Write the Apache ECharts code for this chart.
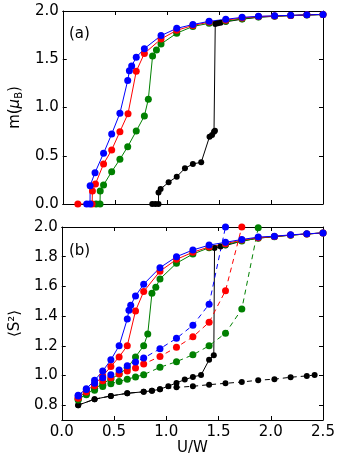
<!DOCTYPE html>
<html>
<head>
<meta charset="utf-8">
<script src="https://cdn.jsdelivr.net/npm/echarts@6/dist/echarts.min.js"></script>
<style>
  html, body { margin: 0; padding: 0; background: #fff; }
  #chart { width: 341px; height: 460px; }
</style>
</head>
<body>
<div id="chart"></div>
<script>
// panel (a): magnetic moment m vs U/W, [U/W, m]
const magBlack = [[0.86, 0], [0.89, 0], [0.92, 0], [0.92, 0.12], [0.94, 0.155], [1.017, 0.225], [1.095, 0.283],
  [1.174, 0.37], [1.25, 0.415], [1.33, 0.432], [1.41, 0.698], [1.434, 0.715], [1.453, 0.75], [1.462, 0.76],
  [1.465, 1.865], [1.49, 1.872], [1.516, 1.879], [1.566, 1.888], [1.723, 1.915], [1.88, 1.935],
  [2.035, 1.945], [2.19, 1.952], [2.345, 1.958], [2.5, 1.963]]
const magGreen = [[0.32, 0], [0.358, 0], [0.36, 0.135], [0.392, 0.197], [0.47, 0.335], [0.549, 0.463],
  [0.624, 0.594], [0.706, 0.756], [0.784, 0.912], [0.822, 1.085], [0.863, 1.534], [0.9, 1.596],
  [0.944, 1.658], [1.095, 1.77], [1.25, 1.84], [1.406, 1.872], [1.566, 1.895], [1.723, 1.918],
  [1.88, 1.938], [2.035, 1.946], [2.19, 1.953], [2.345, 1.959], [2.5, 1.964]]
const magRed = [[0.145, 0], [0.282, 0], [0.285, 0.135], [0.314, 0.207], [0.392, 0.415], [0.47, 0.56],
  [0.549, 0.75], [0.627, 0.936], [0.706, 1.375], [0.784, 1.56], [0.944, 1.71], [1.095, 1.80],
  [1.25, 1.85], [1.406, 1.885], [1.566, 1.905], [1.723, 1.928], [1.88, 1.942], [2.035, 1.948],
  [2.19, 1.954], [2.345, 1.96], [2.5, 1.965]]
const magBlue = [[0.23, 0], [0.262, 0], [0.263, 0.19], [0.31, 0.325], [0.392, 0.525], [0.47, 0.725],
  [0.549, 0.94], [0.624, 1.28], [0.64, 1.38], [0.662, 1.43], [0.706, 1.52], [0.784, 1.61],
  [0.944, 1.745], [1.095, 1.82], [1.25, 1.86], [1.406, 1.893], [1.566, 1.914], [1.723, 1.934],
  [1.88, 1.945], [2.035, 1.95], [2.19, 1.955], [2.345, 1.96], [2.5, 1.965]]

// panel (b): local moment <S^2> vs U/W, solid and dashed branches
const s2Black = [[0.157, 0.80], [0.314, 0.84], [0.47, 0.862], [0.627, 0.88], [0.784, 0.89], [0.863, 0.897],
  [0.94, 0.907], [1.02, 0.928], [1.098, 0.95], [1.177, 0.972], [1.255, 0.99], [1.333, 1.003],
  [1.41, 1.105], [1.455, 1.136], [1.462, 1.858], [1.52, 1.868], [1.567, 1.875], [1.723, 1.905],
  [1.88, 1.925], [2.035, 1.935], [2.19, 1.945], [2.345, 1.953], [2.5, 1.96]]
const s2BlackDash = [[0.157, 0.80], [0.314, 0.84], [0.47, 0.862], [0.627, 0.88], [0.784, 0.89],
  [0.863, 0.897], [0.94, 0.907], [1.098, 0.92], [1.255, 0.927], [1.41, 0.938], [1.567, 0.947],
  [1.723, 0.956], [1.88, 0.968], [2.035, 0.975], [2.19, 0.988], [2.345, 0.997], [2.42, 1.003]]
const s2Green = [[0.157, 0.84], [0.235, 0.875], [0.314, 0.91], [0.392, 0.945], [0.47, 0.975], [0.549, 1.01],
  [0.627, 1.05], [0.706, 1.125], [0.784, 1.2], [0.823, 1.28], [0.863, 1.553], [0.9, 1.595],
  [0.94, 1.65], [1.098, 1.756], [1.255, 1.818], [1.41, 1.86], [1.567, 1.882], [1.723, 1.905],
  [1.88, 1.925], [2.035, 1.935], [2.19, 1.945], [2.345, 1.953], [2.5, 1.96]]
const s2GreenDash = [[0.157, 0.835], [0.235, 0.87], [0.314, 0.9], [0.392, 0.925], [0.47, 0.945],
  [0.549, 0.96], [0.627, 0.975], [0.706, 0.99], [0.784, 1.005], [0.94, 1.055], [1.098, 1.093],
  [1.255, 1.139], [1.41, 1.2], [1.567, 1.285], [1.723, 1.447], [1.88, 1.995]]
const s2Red = [[0.157, 0.85], [0.235, 0.893], [0.314, 0.94], [0.392, 0.997], [0.47, 1.06], [0.549, 1.125],
  [0.627, 1.2], [0.706, 1.435], [0.784, 1.565], [0.94, 1.702], [1.098, 1.782], [1.255, 1.83],
  [1.41, 1.866], [1.567, 1.888], [1.723, 1.912], [1.88, 1.928], [2.035, 1.936], [2.19, 1.946],
  [2.345, 1.953], [2.5, 1.96]]
const s2RedDash = [[0.157, 0.846], [0.235, 0.888], [0.314, 0.93], [0.392, 0.965], [0.47, 0.985],
  [0.549, 1.01], [0.627, 1.03], [0.706, 1.05], [0.784, 1.077], [0.94, 1.128], [1.098, 1.19],
  [1.255, 1.26], [1.41, 1.358], [1.567, 1.571], [1.723, 2.0]]
const s2Blue = [[0.157, 0.866], [0.235, 0.91], [0.314, 0.967], [0.392, 1.03], [0.47, 1.105], [0.549, 1.2],
  [0.627, 1.38], [0.643, 1.44], [0.66, 1.473], [0.706, 1.535], [0.784, 1.615], [0.94, 1.726],
  [1.098, 1.8], [1.255, 1.845], [1.41, 1.878], [1.567, 1.897], [1.723, 1.916], [1.88, 1.932],
  [2.035, 1.938], [2.19, 1.947], [2.345, 1.954], [2.5, 1.96]]
const s2BlueDash = [[0.157, 0.862], [0.235, 0.905], [0.314, 0.947], [0.392, 0.985], [0.47, 1.005],
  [0.549, 1.037], [0.627, 1.066], [0.706, 1.09], [0.784, 1.117], [0.94, 1.18], [1.098, 1.25],
  [1.255, 1.338], [1.41, 1.48], [1.567, 2.0]]

// tick values
const mTicks = [0, 0.5, 1.0, 1.5, 2.0]
const s2Ticks = [0.8, 1.0, 1.2, 1.4, 1.6, 1.8, 2.0]

const FONT = 'DejaVu Sans'
const chart = echarts.init(document.getElementById('chart'))

function mkLine(data, color, xi, yi, dashed, size) {
  return {
    type: 'line',
    xAxisIndex: xi,
    yAxisIndex: yi,
    data: data,
    symbol: 'circle',
    symbolSize: size,
    showSymbol: true,
    animation: false,
    itemStyle: { color: color },
    lineStyle: { color: color, width: 1, type: dashed ? [5, 4] : 'solid' },
    emphasis: { disabled: true }
  }
}

function xAx(grid, pos, labels) {
  return {
    type: 'value', gridIndex: grid, position: pos, min: 0, max: 2.5, interval: 0.5,
    axisLine: { show: true, onZero: false, lineStyle: { color: '#000', width: 1 } },
    axisTick: { show: true, inside: true, length: 4, lineStyle: { color: '#000' } },
    axisLabel: { show: labels, margin: 5, fontFamily: FONT, fontSize: 15, color: '#000',
      formatter: v => v.toFixed(1) },
    splitLine: { show: false }
  }
}

function yAx(grid, pos, min, ticks, labels) {
  return {
    type: 'value', gridIndex: grid, position: pos, min: min, max: 2.0,
    axisLine: { show: true, onZero: false, lineStyle: { color: '#000', width: 1 } },
    axisTick: { show: true, inside: true, length: 4, customValues: ticks, lineStyle: { color: '#000' } },
    axisLabel: { show: labels, margin: 4, fontFamily: FONT, fontSize: 15, color: '#000',
      customValues: ticks, formatter: v => v.toFixed(1) },
    splitLine: { show: false }
  }
}

const xAxes = [xAx(0, 'bottom', false), xAx(0, 'top', false), xAx(1, 'bottom', true), xAx(1, 'top', false)]
xAxes[2].name = 'U/W'
xAxes[2].nameLocation = 'middle'
xAxes[2].nameGap = 17
xAxes[2].nameTextStyle = { fontFamily: FONT, fontSize: 15, color: '#000' }

const yAxes = [yAx(0, 'left', 0, mTicks, true), yAx(0, 'right', 0, mTicks, false),
  yAx(1, 'left', 0.7, s2Ticks, true), yAx(1, 'right', 0.7, s2Ticks, false)]
yAxes[0].name = 'm({mu|μ}{sub|B})'
yAxes[0].nameLocation = 'middle'
yAxes[0].nameGap = 33
yAxes[0].nameTextStyle = {
  fontFamily: FONT, fontSize: 15, color: '#000',
  rich: {
    mu: { fontFamily: FONT, fontSize: 15, fontStyle: 'italic', color: '#000' },
    sub: { fontFamily: FONT, fontSize: 10, color: '#000', padding: [7, 0, 0, 0] }
  }
}
yAxes[2].name = '⟨S²⟩'
yAxes[2].nameLocation = 'middle'
yAxes[2].nameGap = 33
yAxes[2].nameTextStyle = { fontFamily: FONT, fontSize: 15, color: '#000' }

chart.setOption({
  animation: false,
  backgroundColor: '#fff',
  grid: [
    { left: 58, top: 11, width: 265, height: 193 },
    { left: 58, top: 227, width: 265, height: 193 }
  ],
  xAxis: xAxes,
  yAxis: yAxes,
  graphic: [
    { type: 'text', left: 69, top: 27, style: { text: '(a)', fontFamily: FONT, fontSize: 15, fill: '#000' } },
    { type: 'text', left: 69, top: 244, style: { text: '(b)', fontFamily: FONT, fontSize: 15, fill: '#000' } }
  ],
  series: [
    mkLine(magBlack, '#000000', 0, 0, false, 6),
    mkLine(magGreen, '#008000', 0, 0, false, 7),
    mkLine(magRed, '#ff0000', 0, 0, false, 7),
    mkLine(magBlue, '#0000ff', 0, 0, false, 7),
    mkLine(s2BlackDash, '#000000', 2, 2, true, 6),
    mkLine(s2Black, '#000000', 2, 2, false, 6),
    mkLine(s2GreenDash, '#008000', 2, 2, true, 7),
    mkLine(s2Green, '#008000', 2, 2, false, 7),
    mkLine(s2RedDash, '#ff0000', 2, 2, true, 7),
    mkLine(s2Red, '#ff0000', 2, 2, false, 7),
    mkLine(s2BlueDash, '#0000ff', 2, 2, true, 7),
    mkLine(s2Blue, '#0000ff', 2, 2, false, 7)
  ]
})
</script>
</body>
</html>
